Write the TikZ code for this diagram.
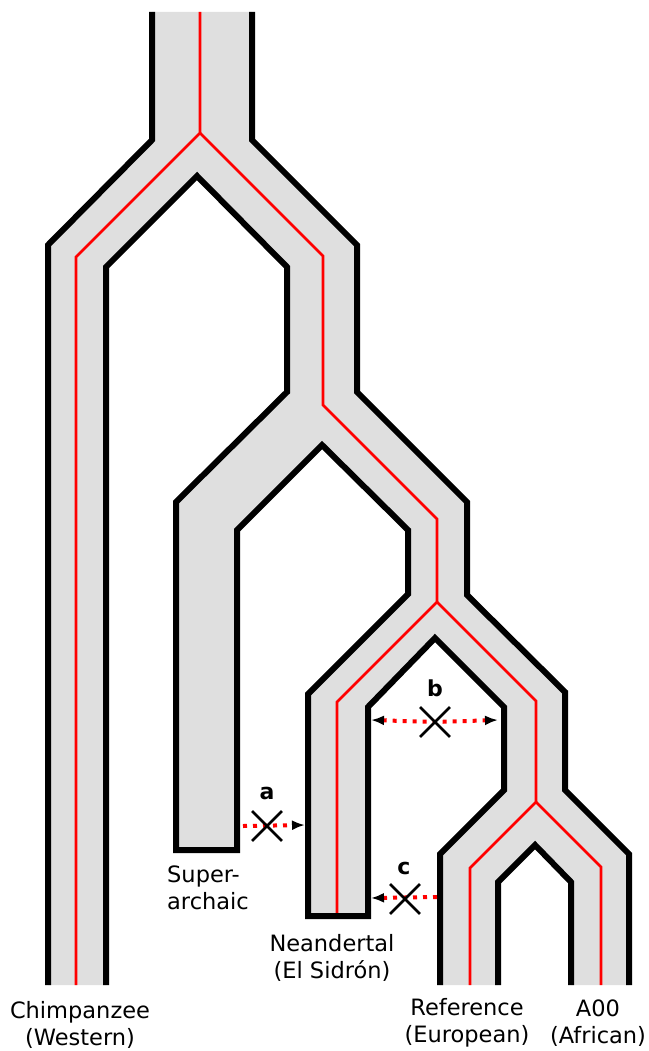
\documentclass[tikz,border=0pt]{standalone}
\usepackage{fontspec}
\setmainfont{DejaVu Sans}
\usetikzlibrary{arrows.meta, shapes.misc}
\definecolor{tGray}{HTML}{DFDFDF}
\definecolor{tRed}{HTML}{FF0000}

\begin{document}
\begin{tikzpicture}[x=1pt, y=-1pt,
  hull/.style={line width=6pt, line join=miter},
  lineage/.style={line width=2.8pt, tRed, line join=miter},
  flow/.style={line width=4pt, tRed, dash pattern=on 4pt off 6pt},
  blocked/.style={cross out, draw, line width=2.8pt, minimum size=27pt, inner sep=0pt},
  tag/.style={font=\fontsize{22}{26}\selectfont\bfseries, inner sep=0pt},
  taxon/.style={font=\fontsize{22.5}{27}\selectfont, align=center, inner sep=0pt},
  >={Latex[black, length=13pt, width=10pt]},
]
  \useasboundingbox (0,0) rectangle (648,1051);

  % species tree body
  \fill[tGray] (152,12) -- (152,140) -- (48,245) -- (48,985) -- (106,985)
    -- (106,267) -- (197,176) -- (287,267) -- (287,392) -- (176,502)
    -- (176,850) -- (237,850) -- (237,530) -- (322,445) -- (408,530)
    -- (408,594) -- (308,694) -- (308,916) -- (368,916) -- (368,707)
    -- (435,638) -- (504,707) -- (504,790) -- (440,854) -- (440,985)
    -- (498,985) -- (498,882) -- (535,845) -- (571,882) -- (571,985)
    -- (629,985) -- (629,854) -- (565,790) -- (565,692) -- (467,595)
    -- (467,502) -- (357,392) -- (357,245) -- (252,140) -- (252,12) -- cycle;

  % gene tree
  \draw[lineage] (200,12) -- (200,133) -- (76,257) -- (76,985);
  \draw[lineage] (200,133) -- (323,256) -- (323,405) -- (437,519) -- (437,602)
    -- (337,702) -- (337,913);
  \draw[lineage] (437,602) -- (536,701) -- (536,802) -- (470,868) -- (470,985);
  \draw[lineage] (536,802) -- (601,867) -- (601,985);

  \draw[hull] (152,12) -- (152,140) -- (48,245) -- (48,985);
  \draw[hull] (106,985) -- (106,267) -- (197,176) -- (287,267) -- (287,392)
    -- (176,502) -- (176,850) -- (237,850) -- (237,530) -- (322,445)
    -- (408,530) -- (408,594) -- (308,694) -- (308,916) -- (368,916)
    -- (368,707) -- (435,638) -- (504,707) -- (504,790) -- (440,854)
    -- (440,985);
  \draw[hull] (498,985) -- (498,882) -- (535,845) -- (571,882) -- (571,985);
  \draw[hull] (629,985) -- (629,854) -- (565,790) -- (565,692) -- (467,595)
    -- (467,502) -- (357,392) -- (357,245) -- (252,140) -- (252,12);

  % gene flow
  \coordinate (aSup) at (243,826);
  \coordinate (aNea) at (305,825);
  \coordinate (bNea) at (371,720);
  \coordinate (bMod) at (498,720);
  \coordinate (cMod) at (437,897);
  \coordinate (cNea) at (371,898);
  \coordinate (xaPos) at (267,826);
  \coordinate (xbPos) at (435,722);
  \coordinate (xcPos) at (405,899);

  \draw[flow, ->] (aSup) -- (aNea);
  \draw[flow, <->] (bNea) -- (xbPos) -- (bMod);
  \draw[flow, ->] (cMod) -- (cNea);

  \node[blocked] (xa) at (xaPos) {};
  \node[blocked] (xb) at (xbPos) {};
  \node[blocked] (xc) at (xcPos) {};
  \node[tag] (la) at (267,793) {a};
  \node[tag] (lb) at (435,688) {b};
  \node[tag] (lc) at (404,868) {c};

  \node[taxon] (chimp) at (80,1025) {Chimpanzee\\(Western)};
  \node[taxon, align=left, anchor=north west] (super) at (167,866) {Super-\\archaic};
  \node[taxon] (neand) at (332,958) {Neandertal\\(El Sidrón)};
  \node[taxon] (refer) at (467,1023) {Reference\\(European)};
  \node[taxon] (afr) at (598,1023) {A00\\(African)};
\end{tikzpicture}
\end{document}
